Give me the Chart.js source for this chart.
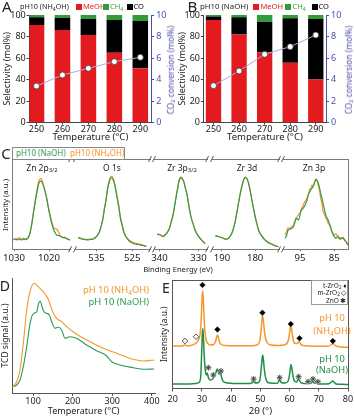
<!DOCTYPE html>
<html><head><meta charset="utf-8">
<script src="https://cdn.jsdelivr.net/npm/chart.js@4.4.1/dist/chart.umd.min.js"></script>
<style>
html,body{margin:0;padding:0;background:#fff;}
#wrap{position:relative;width:354px;height:417px;overflow:hidden;background:#fff;font-family:'Noto Sans',sans-serif;}
canvas{position:absolute;}
.t{position:absolute;white-space:nowrap;line-height:1;}
.t sub{font-size:70%;vertical-align:-0.25em;line-height:0;}
.sw{position:absolute;}
</style></head><body><div id="wrap"></div>
<script>
// ---------------- DATA ----------------
// Panels A / B : catalytic tests
const temps = [250, 260, 270, 280, 290];
const meohA = [90.7, 86, 81.4, 65, 50.5];
const coA   = [7.1, 11.5, 15.2, 30.4, 43.9];
const ch4A  = [2.2, 2.5, 3.4, 4.6, 5.6];
const convA = [3.4, 4.43, 5.05, 5.67, 6.07];
const meohB = [95.4, 82, 65.3, 55.7, 40.2];
const coB   = [3.1, 15.8, 28.5, 41.2, 56.1];
const ch4B  = [1.5, 2.2, 6.2, 3.1, 3.7];
const convB = [3.44, 4.8, 6.35, 7.06, 8.14];
const selTicks = [0, 20, 40, 60, 80, 100];
const convTicks = [0, 2, 4, 6, 8, 10];

// Panel C : XPS  [binding energy (eV), intensity (a.u.)]
const zn2pNaOH = [[1030.2,9.5],[1029.6,10.5],[1029.1,9.3],[1028.4,10.2],[1027.9,9.4],[1027.3,10.8],[1026.8,9.6],[1026.3,10.2],[1025.8,12.5],[1025.5,15.5],[1025.0,24],[1024.5,35.5],[1024.0,46.5],[1023.5,56.5],[1023.1,63.5],[1022.7,67.5],[1022.3,68],[1022.0,66.5],[1021.6,63],[1021.1,57],[1020.6,49],[1020.2,41],[1019.7,32.5],[1019.2,25],[1018.7,19.5],[1018.2,16],[1017.8,14],[1017.3,13.8],[1016.8,13],[1016.4,12.5],[1015.9,11.5],[1015.5,12],[1015.0,10.5],[1014.5,10],[1014.0,9]];
const zn2pNH4 = [[1030.2,10.5],[1029.6,9.5],[1029.1,10.8],[1028.4,11.5],[1027.9,10],[1027.3,9.6],[1026.8,10.5],[1026.3,10.8],[1025.8,13],[1025.5,16],[1025.0,24.5],[1024.5,36.5],[1024.0,48],[1023.5,58.5],[1023.1,66],[1022.7,70],[1022.3,70.5],[1022.0,68.5],[1021.6,64],[1021.1,57.5],[1020.6,49.5],[1020.2,42],[1019.7,34],[1019.2,27],[1018.7,22],[1018.2,20.5],[1017.8,20],[1017.3,17],[1016.8,13.5],[1016.4,12],[1015.9,12],[1015.5,11],[1015.0,11],[1014.5,10.2],[1014.0,9.5]];
const o1sNaOH = [[540.1,11.6],[539.4,10.5],[538.7,10],[538.0,9.5],[537.4,9.3],[536.7,9.8],[536.0,10],[535.3,11.5],[534.6,14.3],[534.1,18],[533.7,22.6],[533.2,30],[532.8,39.3],[532.3,49],[531.9,59.3],[531.5,66],[531.1,70.3],[530.7,71.3],[530.3,69],[529.9,64.5],[529.5,57],[529.2,51],[528.7,41],[528.3,31],[527.8,23.5],[527.4,17.6],[527.0,14],[526.5,11],[525.6,7.6],[524.9,6.3],[524.2,5.3],[523.5,4.8],[522.8,4.3],[522.1,3.8],[521.5,3.3],[521.0,2.8]];
const o1sNH4 = [[540.1,12],[539.4,11.2],[538.7,10.2],[538.0,9.8],[537.4,9.8],[536.7,10.2],[536.0,10.5],[535.3,12],[534.6,14.8],[534.1,18.5],[533.7,23],[533.2,30.5],[532.8,40],[532.3,50],[531.9,60.5],[531.5,67.5],[531.1,71.8],[530.7,72.6],[530.3,70.5],[529.9,66],[529.5,59],[529.2,53],[528.7,43],[528.3,33],[527.8,25],[527.4,19],[527.0,15],[526.5,12],[525.6,8.5],[524.9,7],[524.2,6],[523.5,5.8],[522.8,5],[522.1,4.5],[521.5,3.6],[521.0,3.2]];
const zr3pNaOH = [[340.6,15],[340.2,14.6],[339.9,14.3],[339.5,13.8],[339.0,13.2],[338.6,14.5],[338.1,16],[337.8,18],[337.4,21],[337.0,27],[336.5,34.3],[336.1,43],[335.7,52.6],[335.3,61],[335.0,67.6],[334.7,70.5],[334.4,71.3],[334.1,70],[333.7,67],[333.4,62],[333.0,56],[332.6,47],[332.2,37.6],[331.8,30.5],[331.3,24.3],[330.9,19.5],[330.5,16],[330.0,13],[329.6,11],[329.2,9.2],[328.8,7.6],[328.3,5.3]];
const zr3pNH4 = [[340.6,15.5],[340.2,14.8],[339.9,14.8],[339.5,13.5],[339.0,12.4],[338.6,14],[338.1,16.3],[337.8,18.5],[337.4,21.5],[337.0,27.5],[336.5,35],[336.1,44],[335.7,53.5],[335.3,62],[335.0,68.5],[334.7,71.6],[334.4,72],[334.1,70.5],[333.7,66.5],[333.4,61.5],[333.0,55.5],[332.6,47],[332.2,38],[331.8,31],[331.3,24.8],[330.9,20],[330.5,16.5],[330.0,13.5],[329.6,11.5],[329.2,9.6],[328.8,8],[328.3,5.8]];
const zr3dNaOH = [[192.0,13.3],[191.2,12.8],[190.5,12],[189.7,11],[189.0,10.2],[188.5,10.2],[188.0,11],[187.5,13],[187.0,16],[186.5,21],[186.0,27.6],[185.5,36.5],[185.0,46],[184.5,55],[184.0,62.6],[183.5,68.5],[183.0,71.6],[182.5,70.5],[182.0,66],[181.5,58.5],[181.0,49.3],[180.5,41],[180.0,32.6],[179.5,25.5],[179.0,19.3],[178.2,14],[177.5,11],[176.8,8.5],[176.0,6.6],[175.2,5.3],[174.5,4.3],[173.8,3.3],[173.0,2.6]];
const zr3dNH4 = [[192.0,13.8],[191.2,13],[190.5,12.3],[189.7,11.2],[189.0,10.4],[188.5,10.4],[188.0,11.3],[187.5,13.3],[187.0,16.4],[186.5,21.3],[186.0,28],[185.5,37],[185.0,46.5],[184.5,55.5],[184.0,63],[183.5,69],[183.0,72],[182.5,70.8],[182.0,66.3],[181.5,58.8],[181.0,49.6],[180.5,41.3],[180.0,33],[179.5,26],[179.0,19.8],[178.2,14.5],[177.5,11.5],[176.8,9],[176.0,7],[175.2,5.6],[174.5,4.6],[173.8,3.6],[173.0,2.8]];
const zn3pNaOH = [[99.4,11],[98.9,14.3],[98.5,19.3],[98.0,20],[97.5,21],[97.0,22],[96.6,26],[96.2,31],[95.8,30],[95.5,29.3],[95.1,33],[94.8,37.6],[94.4,40],[94.1,41],[93.7,43],[93.3,46],[92.9,50],[92.6,54.3],[92.2,57],[91.9,59.3],[91.5,61],[91.2,62.6],[90.8,66],[90.4,70],[90.0,68.5],[89.7,66],[89.3,61],[89.0,56],[88.6,51],[88.3,46],[87.9,40],[87.5,34.3],[87.1,31],[86.8,29.3],[86.4,25],[86.1,22.6],[85.7,18],[85.3,14.3],[84.9,12],[84.5,11],[84.2,12.5],[83.9,12],[83.5,10.5],[83.2,10],[82.8,11.5],[82.4,11],[82.0,9],[81.6,7.6],[81.3,5.5],[81.0,4.3]];
const zn3pNH4 = [[99.4,14.5],[98.9,18],[98.5,21.5],[98.0,21],[97.5,22.5],[97.0,24],[96.6,27.5],[96.2,30],[95.8,33],[95.5,34.5],[95.1,36],[94.8,38.5],[94.4,42],[94.1,44],[93.7,47],[93.3,49],[92.9,52],[92.6,55],[92.2,59.5],[91.9,60.5],[91.5,64],[91.2,63],[90.8,66.5],[90.4,69],[90.0,68],[89.7,64],[89.3,58],[89.0,51],[88.6,45],[88.3,38],[87.9,35],[87.5,31.5],[87.1,29],[86.8,26],[86.4,24],[86.1,21],[85.7,17],[85.3,15.5],[84.9,14],[84.5,15.5],[84.2,14],[83.9,13.5],[83.5,11],[83.2,11.8],[82.8,10.5],[82.4,12],[82.0,10],[81.6,8],[81.3,6.5],[81.0,5]];
const xpsTicks1 = [1030, 1020], xpsTicks2 = [535, 525], xpsTicks3 = [340, 330], xpsTicks4 = [190, 180], xpsTicks5 = [95, 85];

// Panel D : H2-TPR  [temperature (°C), TCD signal (a.u.)]
const tpdNH4 = [[47.5,6.3],[58.6,11.3],[67,23],[75.3,49.7],[83.9,83],[92.2,101.3],[103,109.7],[113.2,106.3],[125.8,101.3],[138.4,93.7],[149.5,81.3],[159.6,74.7],[172.3,71.3],[184.9,66.3],[210.1,58.7],[243.7,51.3],[269,46.3],[311.1,39.7],[353.1,33.7],[378.3,32],[406,33]];
const tpdNaOH = [[47.5,6.3],[58.6,8],[67,13],[75.3,26.3],[83.9,46.3],[90.4,64.7],[96.5,76.3],[102.3,79.7],[109.1,81.3],[114.2,89.7],[118.2,92],[122.5,86.3],[127.5,81.3],[134.4,79.7],[141,78],[147,71.3],[155.3,64.7],[163.7,65.7],[172.3,63],[180.6,54.7],[193.2,56.3],[210.1,54.7],[235.4,48],[260.6,42.3],[285.9,37],[298.5,31.3],[319.5,28],[353.1,25.3],[378.3,23.7],[406,24]];
const tpdTicks = [100, 200, 300, 400];

// Panel E : XRD  [2theta (°), intensity (a.u.)]
const xrdNH4 = [[20,42.5],[22,42.5],[23.6,42.8],[24.2,43.8],[24.8,42.8],[26,43],[27,43.6],[27.8,45],[28.3,46.5],[28.9,49],[29.4,55],[29.8,72],[30.05,90],[30.25,97.5],[30.45,91],[30.7,74],[31.0,58],[31.4,49],[32,45],[33,43.5],[34,44],[34.6,46.5],[35.0,51],[35.3,53.5],[35.6,51.5],[36.0,47],[36.6,44],[38,43],[42,42.8],[46,42.8],[48,43],[49.3,44.5],[49.9,49],[50.3,60],[50.6,71],[50.75,73],[51.0,69],[51.3,60],[51.7,51],[52.3,46],[53.5,43.5],[56,43],[58,43.5],[59.2,45.5],[59.8,51],[60.1,58],[60.35,63],[60.6,61],[60.9,55],[61.3,48],[61.9,45],[62.6,45],[63.1,46.5],[63.4,46.8],[63.8,44.5],[64.5,43],[67,42.5],[70,42.2],[73,42.2],[74.2,43.5],[74.8,45.2],[75.4,43.5],[76.5,42],[78,41.5],[80,41]];
const xrdNaOH = [[20,4.5],[24,4.5],[28,5],[29,6],[29.6,12],[29.9,35],[30.1,52],[30.3,60],[30.5,52],[30.8,32],[31.2,17],[31.6,13.5],[31.85,15.5],[32.2,11],[32.8,8.5],[33.5,9],[34.0,11],[34.4,13.5],[34.8,16],[35.2,19.5],[35.5,18],[35.8,14.5],[36.1,15],[36.3,17],[36.6,13],[37.1,8],[38,6],[42,5],[46.5,5],[47.2,6],[47.6,8],[48.0,6],[49,5.5],[49.8,8],[50.3,20],[50.6,30],[50.8,33.5],[51.0,30],[51.4,18],[51.9,9.5],[52.6,6],[54,5.3],[56.0,5.5],[56.6,9.5],[57.1,6],[58.5,5.5],[59.5,7.5],[60.0,14],[60.3,21],[60.5,24],[60.8,20],[61.2,12],[61.8,7],[62.5,6.5],[62.9,9],[63.3,8.5],[63.8,6],[65,5],[66.0,5],[66.4,7],[66.8,5],[67.5,5.5],[67.9,8],[68.3,5.5],[68.8,5.5],[69.1,7.5],[69.5,5],[71,4.5],[73.5,4.8],[74.3,6.5],[74.8,7.5],[75.3,6],[76,4.5],[78,4.2],[80,4]];
const tZrO2 = [[30.2,103.5],[35.3,59],[50.7,75.8],[60.4,64.5],[63.4,50.2],[74.8,47.5]];
const mZrO2 = [[24.2,47.5],[28.0,51.8]];
const znO = [[32.2,20.8],[33.9,13.5],[36.5,17.5],[47.7,9.5],[56.6,10.8],[63.1,11.8],[66.3,6.8],[68.0,9.5],[69.7,6.8]];
const xrdTicks = [20, 30, 40, 50, 60, 70, 80];

// ---------------- STYLE / HELPERS ----------------
const RED = '#e31b1e', GREEN = '#2f9e3a', BLUE = '#4d4fa6';
const GRN = '#2e9d52', ORG = '#ff8d1e';
const FAM = "'Noto Sans', sans-serif";
Chart.defaults.font.family = FAM;
Chart.defaults.color = '#222';
const wrap = document.getElementById('wrap');
const F = (size, lh = 1) => ({ family: FAM, size, lineHeight: lh });
const zeroPad = s => { s.paddingLeft = s.paddingRight = s.paddingTop = s.paddingBottom = 0; };
const fitW = w => s => { s.width = w; zeroPad(s); };
const fitH = h => s => { s.height = h; zeroPad(s); };
const setTicks = arr => s => { s.ticks = arr.map(v => ({ value: v })); };
const plain = v => String(v);
const XY = arr => arr.map(p => ({ x: p[0], y: p[1] }));
const base = () => ({ responsive: false, animation: false, events: [],
  plugins: { legend: { display: false }, tooltip: { enabled: false } } });

function mkCanvas(x, y, w, h) {
  const c = document.createElement('canvas');
  c.width = w; c.height = h;
  c.style.left = x + 'px'; c.style.top = y + 'px';
  c.style.width = w + 'px'; c.style.height = h + 'px';
  wrap.appendChild(c); return c;
}
function txt(html, x, y, o = {}) {
  const d = document.createElement('div');
  d.className = 't'; d.innerHTML = html;
  d.style.left = x + 'px'; d.style.top = y + 'px';
  d.style.fontSize = (o.size || 9) + 'px';
  d.style.color = o.color || '#222';
  const ax = o.anchor === 'l' ? '0' : o.anchor === 'r' ? '-100%' : '-50%';
  d.style.transform = `translate(${ax},-50%)` + (o.rot ? ` rotate(${o.rot}deg)` : '');
  wrap.appendChild(d); return d;
}
function sw(x, y, w, h, bg, border) {
  const d = document.createElement('div'); d.className = 'sw';
  d.style.left = x + 'px'; d.style.top = y + 'px';
  d.style.width = w + 'px'; d.style.height = h + 'px';
  d.style.background = bg || 'transparent';
  if (border) d.style.border = border;
  d.style.boxSizing = 'border-box';
  wrap.appendChild(d); return d;
}

const breakPlugin = {
  id: 'brk',
  afterDraw(chart, args, opts) {
    if (!opts || (!opts.left && !opts.right)) return;
    const { ctx, chartArea: a } = chart;
    ctx.save(); ctx.strokeStyle = '#555'; ctx.lineWidth = 1;
    const mark = (x, y) => { ctx.beginPath(); ctx.moveTo(x - 1.5, y + 3); ctx.lineTo(x + 1.5, y - 3); ctx.stroke(); };
    if (opts.left) { mark(a.left, a.top); mark(a.left, a.bottom); }
    if (opts.right) { mark(a.right, a.top); mark(a.right, a.bottom); }
    ctx.restore();
  }
};

// ---------------- PANELS A / B ----------------
function barPanel(cx, W, plotL, plotR, xmin, xmax, meoh, co, ch4, conv) {
  const cy = 5, H = 140, plotT = 15, plotB = 122.7;
  const c = mkCanvas(cx, cy, W, H);
  const pts = a => a.map((v, i) => ({ x: temps[i], y: v }));
  const bar = (label, data, color) => ({ label, data: pts(data), backgroundColor: color, borderWidth: 0,
    barPercentage: 0.6, categoryPercentage: 1, order: 1 });
  new Chart(c, {
    type: 'bar',
    data: { datasets: [
      bar('MeOH', meoh, RED), bar('CO', co, '#000'), bar('CH4', ch4, GREEN),
      { type: 'line', label: 'CO2 conversion', data: pts(conv), yAxisID: 'y1', borderColor: '#a9abe2', borderWidth: 1,
        pointRadius: 3, pointBackgroundColor: '#fff', pointBorderColor: '#3a3a3a', pointBorderWidth: 0.8, order: 0 }
    ] },
    options: { ...base(),
      layout: { padding: { top: plotT - cy, left: 0, right: 0, bottom: 0 } },
      scales: {
        x: { type: 'linear', min: xmin, max: xmax, stacked: true, offset: false,
          afterBuildTicks: setTicks(temps), afterFit: fitH(cy + H - plotB),
          ticks: { font: F(9), color: '#222', padding: 0.5, maxRotation: 0, autoSkip: false, callback: plain },
          grid: { display: true, offset: false, drawOnChartArea: false, tickLength: 2, color: '#444' },
          border: { color: '#444' },
          title: { display: true, text: 'Temperature (°C)', font: F(9.5, 1.2), color: '#222', padding: { top: 0, bottom: 2.5 } } },
        y: { stacked: true, min: 0, max: 100, afterBuildTicks: setTicks(selTicks), afterFit: fitW(plotL - cx),
          ticks: { font: F(9), color: '#222', padding: 0.8 },
          grid: { display: true, drawOnChartArea: false, tickLength: 3, color: '#444' },
          border: { color: '#444' },
          title: { display: true, text: 'Selectivity (mol%)', font: F(9, 1.2), color: '#222', padding: { top: 1.8, bottom: 0 } } },
        y1: { position: 'right', min: 0, max: 10, afterBuildTicks: setTicks(convTicks), afterFit: fitW(cx + W - plotR),
          ticks: { font: F(9), color: BLUE, padding: 2 },
          grid: { display: true, drawOnChartArea: false, tickLength: 3, color: BLUE },
          border: { color: BLUE } }
      } }
  });
}
barPanel(0, 178, 29.5, 151.2, 247.3, 294.2, meohA, coA, ch4A, convA);
barPanel(175, 179, 203.8, 326, 246.2, 294, meohB, coB, ch4B, convB);

// headers A / B
txt('A', 6.7, 6.3, { size: 15 });
txt('pH10 (NH<sub>4</sub>OH)', 20, 7, { size: 7.2, anchor: 'l' });
sw(76, 4, 6, 6, RED); txt('MeOH', 83, 7, { size: 7.5, color: RED, anchor: 'l' });
sw(103, 4, 6, 6, GREEN); txt('CH<sub>4</sub>', 110, 7, { size: 7.5, color: GREEN, anchor: 'l' });
sw(127, 4, 6, 6, '#000'); txt('CO', 133.5, 7, { size: 7.5, color: '#000', anchor: 'l' });
txt('B', 192.5, 6.3, { size: 15 });
txt('pH10 (NaOH)', 200, 7, { size: 7.8, anchor: 'l' });
sw(253.3, 4, 6, 6, RED); txt('MeOH', 260.5, 7, { size: 7.5, color: RED, anchor: 'l' });
sw(285, 4, 6, 6, GREEN); txt('CH<sub>4</sub>', 292.5, 7, { size: 7.5, color: GREEN, anchor: 'l' });
sw(312, 4, 6, 6, '#000'); txt('CO', 318.5, 7, { size: 7.5, color: '#000', anchor: 'l' });
txt('CO<sub>2</sub> conversion (mol%)', 171, 70, { size: 8.3, color: BLUE, rot: -90 });
txt('CO<sub>2</sub> conversion (mol%)', 348.8, 70, { size: 8.3, color: BLUE, rot: -90 });

// ---------------- PANEL C (XPS) ----------------
const AXG = '#7a7a7a';
function xps(L, R, emax, emin, ticks, naoh, nh4, o) {
  const x0 = Math.max(0, Math.floor(L - 16)), x1 = Math.min(354, Math.ceil(R + 16));
  const cy = 150, H = 114, plotT = 159, plotB = 249.3;
  const c = mkCanvas(x0, cy, x1 - x0, H);
  const ds = (d, col) => ({ data: XY(d), borderColor: col, borderWidth: 1.2, pointRadius: 0,
    tension: 0.3, cubicInterpolationMode: 'monotone' });
  const opts = base();
  opts.plugins.brk = { left: !!o.bl, right: !!o.br };
  opts.layout = { padding: { left: L - x0, right: x1 - R, top: plotT - cy, bottom: 0 } };
  opts.scales = {
    x: { type: 'linear', reverse: true, min: emin, max: emax, position: 'bottom',
      afterBuildTicks: setTicks(ticks), afterFit: fitH(cy + H - plotB),
      ticks: { font: F(9.6), color: '#222', padding: 2, maxRotation: 0, autoSkip: false, callback: plain },
      grid: { display: true, drawOnChartArea: false, tickLength: 2, color: AXG }, border: { color: AXG } },
    xt: { type: 'linear', reverse: true, min: emin, max: emax, position: 'top',
      ticks: { display: false }, grid: { display: false }, border: { color: AXG }, afterFit: fitH(0) },
    y: { min: 0, max: 90, display: !!o.edge, position: o.edge === 'right' ? 'right' : 'left',
      ticks: { display: false }, grid: { display: false }, border: { color: AXG }, afterFit: fitW(0) }
  };
  new Chart(c, { type: 'line', data: { datasets: [ds(naoh, GRN), ds(nh4, ORG)] }, options: opts, plugins: [breakPlugin] });
}
xps(12.7, 70.1, 1030.4, 1014, xpsTicks1, zn2pNaOH, zn2pNH4, { edge: 'left', br: true });
xps(75, 150, 541, 520, xpsTicks2, o1sNaOH, o1sNH4, { bl: true, br: true });
xps(154, 207, 341.4, 327.8, xpsTicks3, zr3pNaOH, zr3pNH4, { bl: true, br: true });
xps(212, 279, 193, 172.8, xpsTicks4, zr3dNaOH, zr3dNH4, { bl: true, br: true });
xps(283, 348, 100, 81, xpsTicks5, zn3pNaOH, zn3pNH4, { edge: 'right', bl: true });

txt('C', 6, 152.5, { size: 15 });
sw(12, 147, 113, 12.5, '#fff', '1px solid #888');
txt('pH10 (NaOH)', 16, 153.3, { size: 8, color: GRN, anchor: 'l' });
txt('pH10 (NH<sub>4</sub>OH)', 70, 153.3, { size: 8, color: ORG, anchor: 'l' });
txt('Zn 2p<sub>3/2</sub>', 42, 168, { size: 8.5 });
txt('O 1s', 112, 168, { size: 8.5 });
txt('Zr 3p<sub>3/2</sub>', 182, 168, { size: 8.5 });
txt('Zr 3d', 247, 168, { size: 8.5 });
txt('Zn 3p', 314, 168, { size: 8.5 });
txt('Intensity (a.u.)', 5.5, 205, { size: 7.8, rot: -90 });
txt('Binding Energy (eV)', 178, 269.5, { size: 7.6 });

// ---------------- PANEL D (TPR) ----------------
(function () {
  const cx = 0, cy = 272, W = 170, H = 145, plotL = 12.3, plotR = 155, plotT = 278, plotB = 393;
  const c = mkCanvas(cx, cy, W, H);
  const opts = base();
  opts.layout = { padding: { left: 0, right: cx + W - plotR, top: plotT - cy, bottom: 0 } };
  opts.scales = {
    x: { type: 'linear', min: 47.5, max: 408, afterBuildTicks: setTicks(tpdTicks), afterFit: fitH(cy + H - plotB),
      ticks: { font: F(9), color: '#222', padding: 1.2, maxRotation: 0, autoSkip: false, callback: plain },
      grid: { display: true, drawOnChartArea: false, tickLength: 3, color: '#555' }, border: { color: '#555' },
      title: { display: true, text: 'Temperature (°C)', font: F(9, 1.2), color: '#222', padding: { top: 0, bottom: 0 } } },
    y: { min: 0, max: 115, afterFit: fitW(plotL - cx), ticks: { display: false }, grid: { display: false },
      border: { color: '#555' },
      title: { display: true, text: 'TCD signal (a.u.)', font: F(8.5, 1.2), color: '#222', padding: { top: 0, bottom: 0 } } }
  };
  const ds = (d, col) => ({ data: XY(d), borderColor: col, borderWidth: 1.1, pointRadius: 0, tension: 0.25, cubicInterpolationMode: 'monotone' });
  new Chart(c, { type: 'line', data: { datasets: [ds(tpdNH4, '#f6962a'), ds(tpdNaOH, '#2b9a55')] }, options: opts });
})();
txt('D', 4.8, 286, { size: 14 });
txt('pH 10 (NH<sub>4</sub>OH)', 149, 290, { size: 9.4, color: '#f6962a', anchor: 'r' });
txt('pH 10 (NaOH)', 149, 302, { size: 9.4, color: '#2b9a55', anchor: 'r' });

// ---------------- PANEL E (XRD) ----------------
(function () {
  const cx = 160, cy = 272, W = 194, H = 145, plotL = 172.7, plotR = 348, plotT = 280, plotB = 388.5;
  const c = mkCanvas(cx, cy, W, H);
  const opts = base();
  opts.layout = { padding: { left: 0, right: cx + W - plotR, top: plotT - cy, bottom: 0 } };
  opts.scales = {
    x: { type: 'linear', min: 20, max: 80, afterBuildTicks: setTicks(xrdTicks), afterFit: fitH(cy + H - plotB),
      ticks: { font: F(9), color: '#222', padding: 3.5, maxRotation: 0, autoSkip: false, callback: plain },
      grid: { display: true, drawOnChartArea: false, tickLength: 3, color: '#555' }, border: { color: '#555' },
      title: { display: true, text: '2θ (°)', font: F(9.5, 1.2), color: '#222', padding: { top: 0, bottom: 0 } } },
    xt: { type: 'linear', min: 20, max: 80, position: 'top', ticks: { display: false }, grid: { display: false },
      border: { color: '#555' }, afterFit: fitH(0) },
    y: { min: 0, max: 108.5, afterFit: fitW(plotL - cx), ticks: { display: false }, grid: { display: false },
      border: { color: '#555' },
      title: { display: true, text: 'Intensity (a.u.)', font: F(8.3, 1.2), color: '#222', padding: { top: 0, bottom: 0 } } },
    yr: { min: 0, max: 108.5, position: 'right', ticks: { display: false }, grid: { display: false },
      border: { color: '#555' }, afterFit: fitW(0) }
  };
  const line = (d, col) => ({ data: XY(d), borderColor: col, borderWidth: 1.5, pointRadius: 0, tension: 0.3, cubicInterpolationMode: 'monotone', order: 5 });
  const mark = (d, style, bg, bc, r, bw, ord) => ({ data: XY(d), showLine: false, pointStyle: style, pointRadius: r,
    pointBackgroundColor: bg, pointBorderColor: bc, pointBorderWidth: bw, order: ord });
  new Chart(c, { type: 'line', data: { datasets: [
    line(xrdNH4, '#f6962a'), line(xrdNaOH, '#1e8f45'),
    mark(tZrO2, 'rectRot', '#000', '#000', 2.8, 0.5, 1),
    mark(mZrO2, 'rectRot', '#fff', '#222', 2.8, 0.8, 1),
    mark(znO, 'rect', '#d6d6d6', '#d6d6d6', 3.2, 0, 2),
    mark(znO, 'star', '#444', '#444', 3, 0.9, 1)
  ] }, options: opts });
})();
txt('E', 166, 287.5, { size: 14 });
sw(311, 280, 37, 25, '#fff', '1px solid #999');
txt('t-ZrO<sub>2</sub> ♦', 346.5, 285.5, { size: 6.5, anchor: 'r' });
txt('m-ZrO<sub>2</sub> ◇', 346.5, 293, { size: 6.5, anchor: 'r' });
txt('ZnO ✱', 346.5, 300.5, { size: 6.5, anchor: 'r' });
txt('pH 10', 332, 318.3, { size: 9.3, color: '#f6962a' });
txt('(NH<sub>4</sub>OH)', 332, 330.7, { size: 9.3, color: '#f6962a' });
txt('pH 10', 332, 359.3, { size: 9.3, color: '#1e8f45' });
txt('(NaOH)', 332, 370, { size: 9.3, color: '#1e8f45' });
</script></body></html>
